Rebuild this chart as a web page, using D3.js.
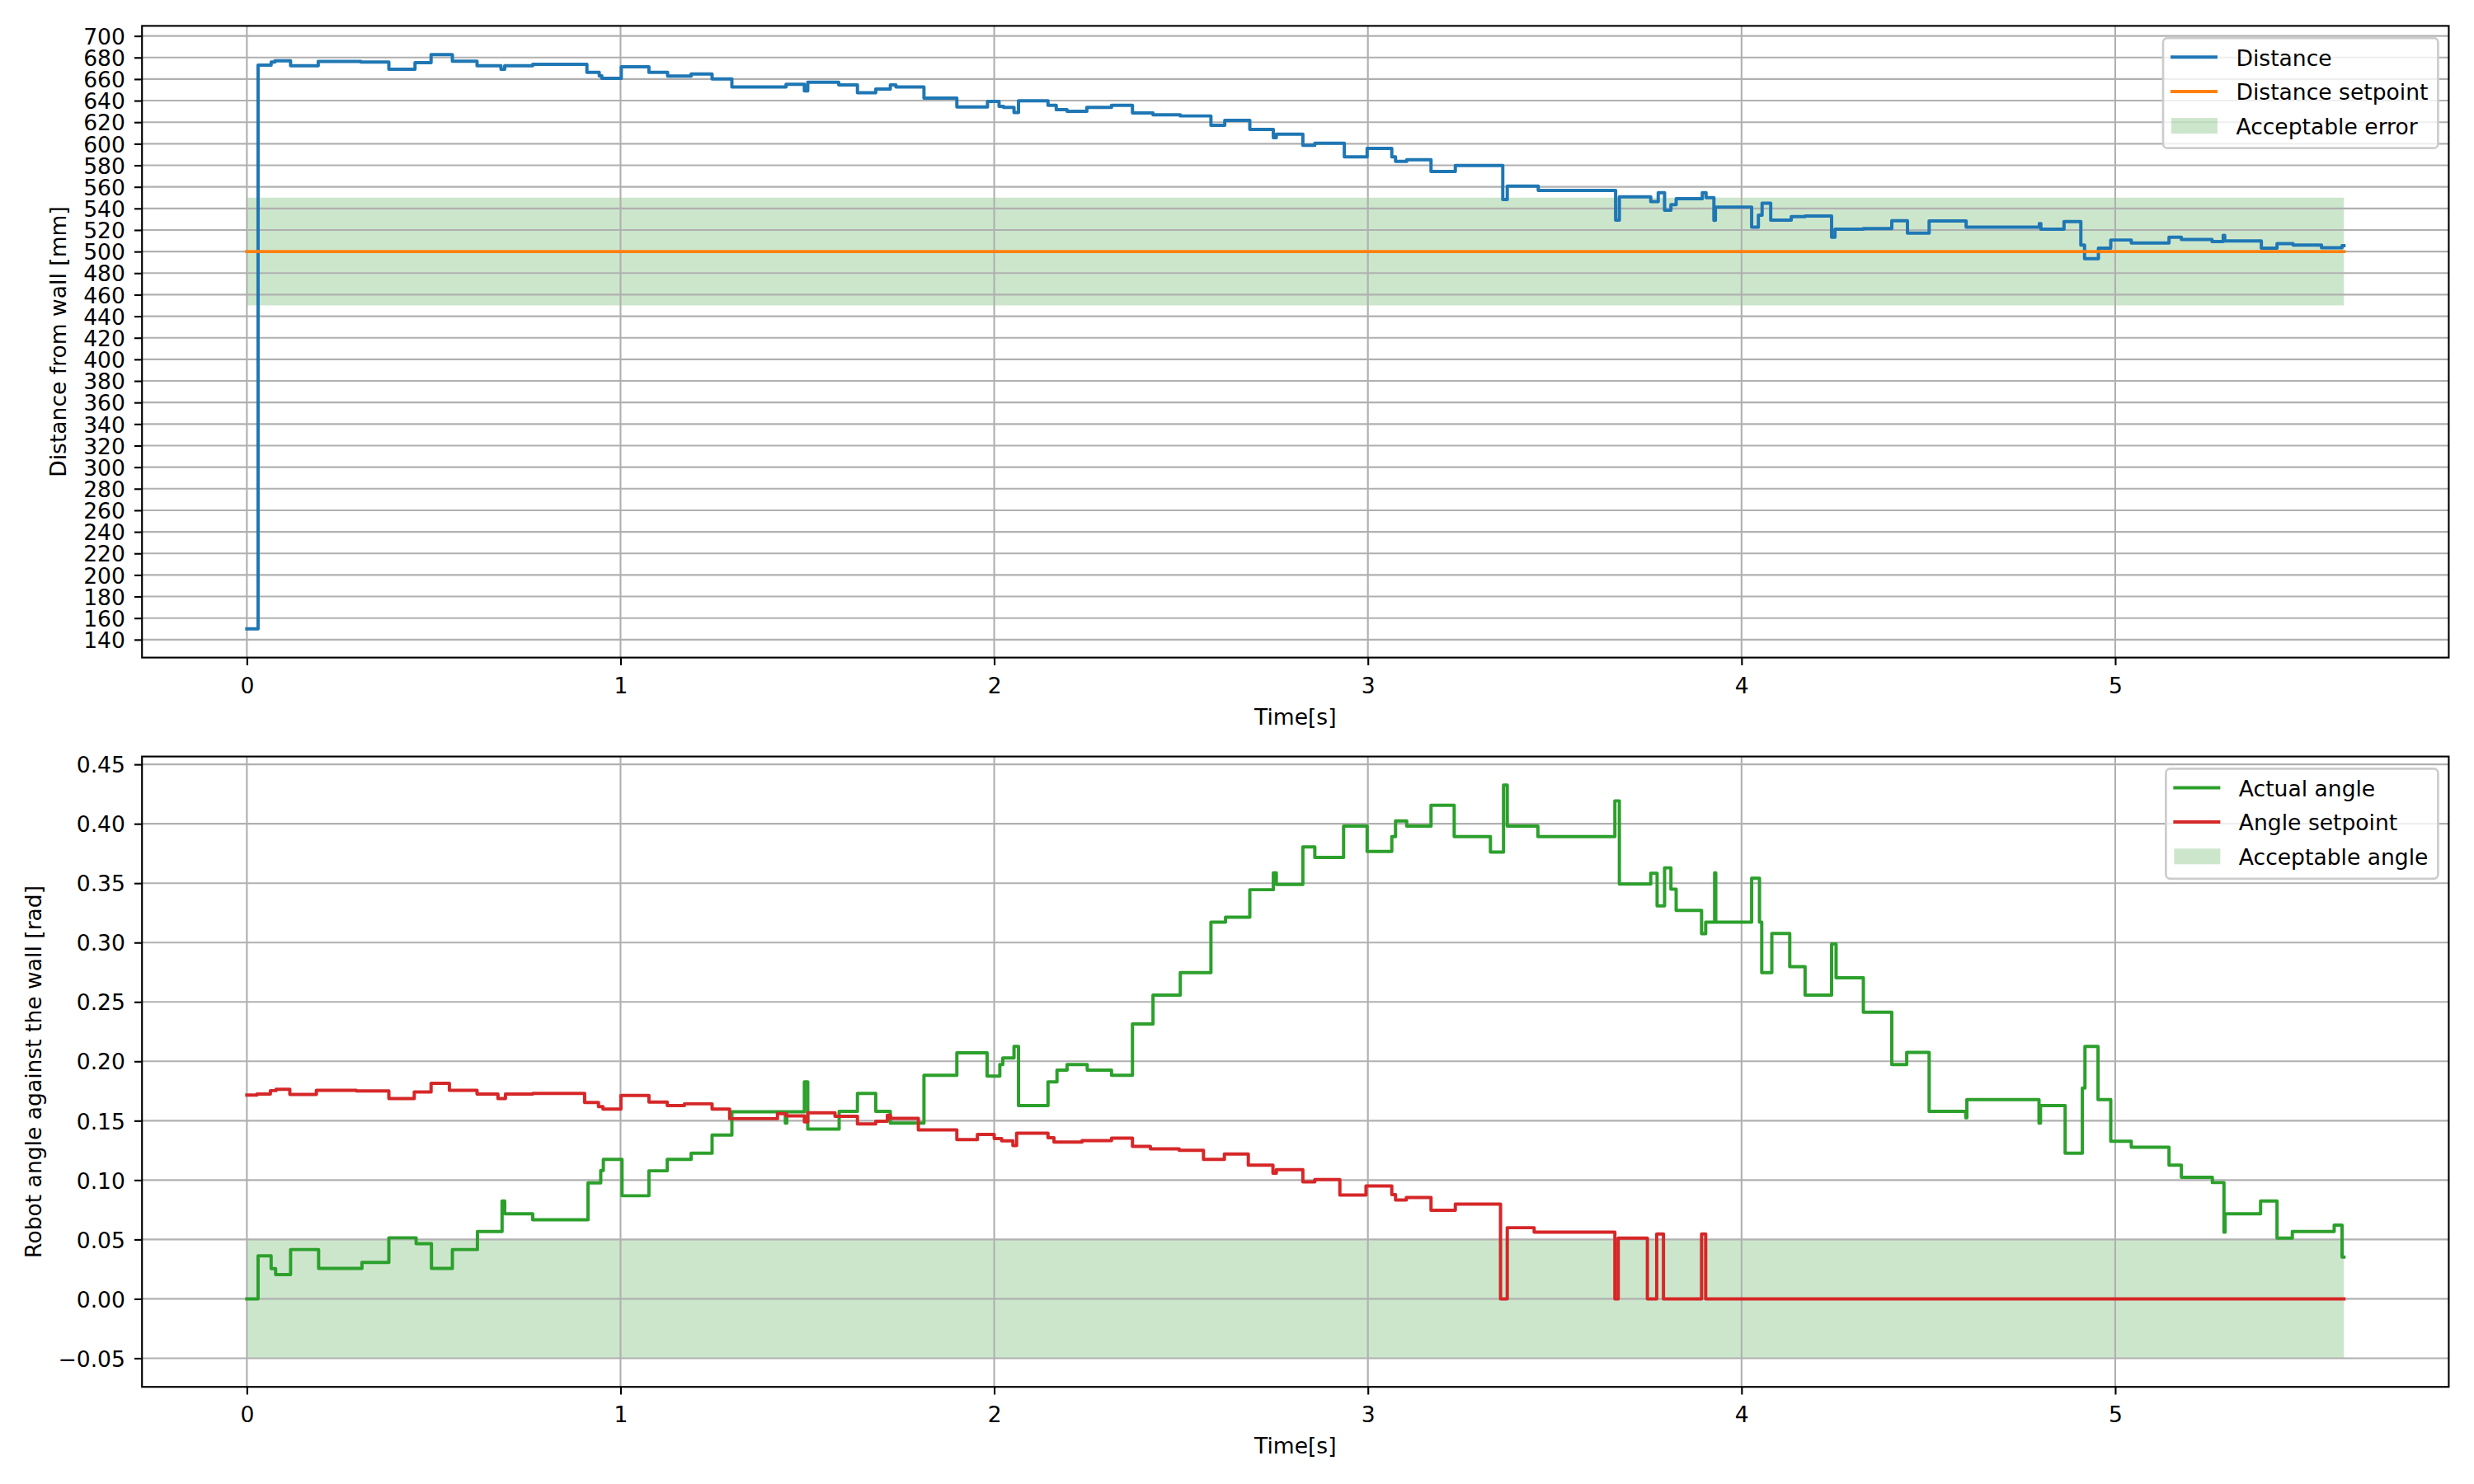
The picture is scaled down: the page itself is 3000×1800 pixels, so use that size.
<!DOCTYPE html>
<html><head><meta charset="utf-8">
<script src="https://cdn.jsdelivr.net/npm/d3@7"></script>
<style>body{margin:0;background:#fff} text{font-family:"DejaVu Sans",sans-serif;fill:#000}</style>
</head><body><svg id="c" width="3000" height="1800" xmlns="http://www.w3.org/2000/svg"></svg>
<script>
// ---------------- DATA (step points: [time s, value]) ----------------
const distance = [
[0,150],[0.030,673],[0.065,675.8],[0.075,677],[0.117,672.4],[0.191,676.3],[0.305,675.8],[0.380,669.1],
[0.450,675.3],[0.493,682.7],[0.550,676.5],[0.616,672.4],[0.680,669.1],[0.690,672.4],[0.765,673.7],
[0.910,666.3],[0.943,663.0],[0.950,660.7],[1.002,671.4],[1.076,666.3],[1.126,662.8],[1.189,664.8],
[1.245,660.2],[1.298,652.6],[1.443,655.1],[1.492,649.0],[1.501,657.1],[1.584,654.6],[1.634,647.4],
[1.683,650.8],[1.722,654.6],[1.737,652.6],[1.812,642.3],[1.900,634.2],[1.982,639.3],[2.013,634.7],
[2.025,633.7],[2.053,629.0],[2.065,639.8],[2.144,635.7],[2.166,631.6],[2.195,630.1],[2.248,633.7],
[2.314,635.7],[2.370,628.6],[2.425,626.8],[2.498,625.8],[2.580,617.1],[2.617,621.7],[2.684,613.3],
[2.747,605.6],[2.755,608.9],[2.826,598.5],[2.858,600.5],[2.937,587.8],[2.998,595.7],[3.064,587.8],
[3.074,583.7],[3.104,585.2],[3.169,574.2],[3.234,579.8],[3.361,548.2],[3.373,560.7],[3.456,556.6],
[3.663,529.1],[3.673,550.8],[3.757,546.4],[3.777,554.6],[3.794,538.3],[3.811,543.5],[3.825,549.0],
[3.895,554.6],[3.905,550.0],[3.926,529.0],[3.930,541.3],[4.027,522.7],[4.045,533.7],[4.055,544.9],
[4.078,529.1],[4.133,532.4],[4.170,532.9],[4.241,513.3],[4.250,520.7],[4.326,521.4],[4.402,528.6],
[4.444,517.1],[4.502,528.3],[4.601,522.7],[4.797,526.0],[4.801,520.7],[4.863,527.8],[4.908,506.1],
[4.918,493.4],[4.955,503.1],[4.988,510.7],[5.043,507.9],[5.144,513.3],[5.177,511.2],[5.259,509.2],
[5.289,515.0],[5.293,509.9],[5.391,503.1],[5.433,507.4],[5.476,506.1],[5.552,503.6],[5.607,505.5],
[5.612,505.5]
];
const distanceSetpoint = [[0,500],[5.612,500]];
const distanceBand = [450,550];

const actualAngle = [
[0,0],[0.030,0.0362],[0.065,0.0254],[0.077,0.0205],[0.117,0.0415],[0.192,0.0257],[0.308,0.0307],
[0.380,0.0514],[0.453,0.0465],[0.494,0.0257],[0.550,0.0415],[0.617,0.0567],[0.683,0.0824],[0.690,0.0716],
[0.765,0.0666],[0.913,0.0976],[0.947,0.1081],[0.954,0.1175],[1.004,0.0868],[1.076,0.1078],[1.125,0.1175],
[1.189,0.1227],[1.245,0.1379],[1.298,0.1575],[1.441,0.1480],[1.445,0.1575],[1.492,0.1826],[1.501,0.1429],
[1.585,0.1578],[1.634,0.1730],[1.683,0.1578],[1.722,0.1480],[1.812,0.1882],[1.900,0.2072],[1.981,0.1876],
[2.015,0.1973],[2.023,0.2028],[2.053,0.2125],[2.065,0.1628],[2.144,0.1826],[2.168,0.1926],[2.195,0.1973],
[2.249,0.1926],[2.314,0.1882],[2.370,0.2314],[2.425,0.2557],[2.498,0.2747],[2.580,0.3171],[2.619,0.3214],
[2.684,0.3445],[2.747,0.3586],[2.755,0.3489],[2.826,0.3805],[2.858,0.3717],[2.935,0.3980],[2.998,0.3767],
[3.064,0.3892],[3.074,0.4024],[3.104,0.3980],[3.169,0.4155],[3.231,0.3892],[3.328,0.3761],[3.363,0.4325],
[3.373,0.3980],[3.455,0.3892],[3.661,0.4193],[3.673,0.3492],[3.757,0.3583],[3.774,0.3308],[3.794,0.3629],
[3.811,0.3450],[3.825,0.3270],[3.893,0.3074],[3.904,0.3171],[3.928,0.3586],[3.931,0.3171],[4.027,0.3542],
[4.048,0.3171],[4.054,0.2747],[4.081,0.3077],[4.129,0.2797],[4.170,0.2557],[4.241,0.2987],[4.253,0.2703],
[4.326,0.2414],[4.402,0.1973],[4.442,0.2075],[4.502,0.1578],[4.600,0.1525],[4.603,0.1677],[4.796,0.1480],
[4.800,0.1628],[4.866,0.1227],[4.912,0.1774],[4.919,0.2125],[4.954,0.1677],[4.988,0.1327],[5.043,0.1277],
[5.144,0.1125],[5.177,0.1023],[5.260,0.0979],[5.291,0.0561],[5.294,0.0716],[5.389,0.0824],[5.433,0.0511],
[5.474,0.0567],[5.586,0.0620],[5.607,0.0351],[5.612,0.0351]
];
const angleSetpoint = [
[0,0.1715],[0.027,0.1724],[0.063,0.1753],[0.078,0.1765],[0.115,0.1721],[0.186,0.1756],[0.293,0.1750],
[0.380,0.1686],[0.448,0.1742],[0.493,0.1815],[0.542,0.1756],[0.616,0.1724],[0.672,0.1686],[0.692,0.1724],
[0.765,0.1730],[0.904,0.1654],[0.941,0.1619],[0.953,0.1598],[1.001,0.1712],[1.076,0.1657],[1.125,0.1628],
[1.171,0.1642],[1.245,0.1598],[1.292,0.1517],[1.420,0.1560],[1.443,0.1540],[1.492,0.1490],[1.501,0.1566],
[1.574,0.1537],[1.634,0.1473],[1.683,0.1496],[1.714,0.1546],[1.722,0.1520],[1.797,0.1423],[1.900,0.1341],
[1.955,0.1385],[2.000,0.1350],[2.020,0.1330],[2.050,0.1290],[2.060,0.1394],[2.144,0.1356],[2.160,0.1320],
[2.235,0.1333],[2.314,0.1353],[2.370,0.1283],[2.418,0.1262],[2.495,0.1251],[2.560,0.1175],[2.616,0.1219],
[2.680,0.1125],[2.746,0.1058],[2.755,0.1087],[2.826,0.0985],[2.858,0.1005],[2.925,0.0874],[2.995,0.0950],
[3.064,0.0877],[3.074,0.0833],[3.103,0.0853],[3.169,0.0745],[3.234,0.0798],[3.355,0.0],[3.373,0.0599],
[3.445,0.0561],[3.661,0.0],[3.670,0.0511],[3.748,0.0],[3.773,0.0546],[3.791,0.0],[3.893,0.0546],
[3.904,0.0],[5.612,0.0]
];
const angleBand = [-0.05,0.05];

const timeTicks = [0,1,2,3,4,5];
const distanceTicks = d3.range(140, 701, 20);
const angleTicks = [-0.05,0,0.05,0.10,0.15,0.20,0.25,0.30,0.35,0.40,0.45];

// ---------------- LAYOUT ----------------
const PT = 2.657, FS = 26.57;
const X0 = 172.2, X1 = 2969.4;
const svg = d3.select("#c");

const panels = [
  {top:31.4, bottom:797.6, ticks:distanceTicks, fmt:d3.format("d"),
   ylabel:"Distance from wall [mm]", ylabelX:80,
   series:[{data:distance,color:"#1f77b4",label:"Distance"},
           {data:distanceSetpoint,color:"#ff7f0e",label:"Distance setpoint"}],
   band:distanceBand, bandLabel:"Acceptable error"},
  {top:917.6, bottom:1682.2, ticks:angleTicks, fmt:d3.format(".2f"),
   ylabel:"Robot angle against the wall [rad]", ylabelX:50,
   series:[{data:actualAngle,color:"#2ca02c",label:"Actual angle"},
           {data:angleSetpoint,color:"#d62728",label:"Angle setpoint"}],
   band:angleBand, bandLabel:"Acceptable angle"}
];

panels.forEach((p, i) => {
  const allT = p.series.flatMap(s => s.data.map(d => d[0]));
  const allV = p.series.flatMap(s => s.data.map(d => d[1])).concat(p.band);
  const [t0, t1] = d3.extent(allT);
  const [v0, v1] = d3.extent(allV);
  const tp = 0.05*(t1-t0), vp = 0.05*(v1-v0);
  const x = d3.scaleLinear().domain([t0-tp, t1+tp]).range([X0, X1]);
  const y = d3.scaleLinear().domain([v0-vp, v1+vp]).range([p.bottom, p.top]);

  const g = svg.append("g");
  const clipId = "clip"+i;
  svg.append("clipPath").attr("id", clipId).append("rect")
    .attr("x", X0).attr("y", p.top).attr("width", X1-X0).attr("height", p.bottom-p.top);

  // acceptable band
  const bandArea = d3.area().x(d => x(d)).y0(y(p.band[0])).y1(y(p.band[1]));
  g.append("path").attr("d", bandArea([t0, t1]))
    .attr("fill", "green").attr("fill-opacity", 0.2);

  // grid
  const grid = g.append("g").attr("clip-path", `url(#${clipId})`)
    .attr("stroke", "#b0b0b0").attr("stroke-width", 0.8*PT);
  timeTicks.forEach(t => grid.append("line").attr("x1", x(t)).attr("x2", x(t)).attr("y1", p.top).attr("y2", p.bottom));
  p.ticks.forEach(v => grid.append("line").attr("x1", X0).attr("x2", X1).attr("y1", y(v)).attr("y2", y(v)));

  // lines
  const line = d3.line().x(d => x(d[0])).y(d => y(d[1])).curve(d3.curveStepAfter);
  const lg = g.append("g").attr("clip-path", `url(#${clipId})`);
  p.series.forEach(s => lg.append("path").attr("d", line(s.data))
    .attr("fill", "none").attr("stroke", s.color).attr("stroke-width", 1.5*PT)
    .attr("stroke-linejoin", "round").attr("stroke-linecap", "square"));

  // axes
  const xa = g.append("g").attr("transform", `translate(0,${p.bottom})`)
    .call(d3.axisBottom(x).tickValues(timeTicks).tickFormat(d3.format("d"))
      .tickSize(3.5*PT).tickSizeOuter(0).tickPadding(14.8));
  const ya = g.append("g").attr("transform", `translate(${X0},0)`)
    .call(d3.axisLeft(y).tickValues(p.ticks).tickFormat(p.fmt)
      .tickSize(3.5*PT).tickSizeOuter(0).tickPadding(11));
  [xa, ya].forEach(a => {
    a.select(".domain").remove();
    a.selectAll(".tick line").attr("stroke", "#000").attr("stroke-width", 0.8*PT);
    a.selectAll(".tick text").attr("font-size", FS).attr("font-family", "DejaVu Sans").attr("fill", "#000");
  });
  ya.selectAll(".tick text").attr("dy", "0.365em");

  // spines
  g.append("rect").attr("x", X0).attr("y", p.top).attr("width", X1-X0).attr("height", p.bottom-p.top)
    .attr("fill", "none").attr("stroke", "#000").attr("stroke-width", 0.8*PT);

  // labels
  g.append("text").attr("x", (X0+X1)/2).attr("y", p.bottom+81).attr("text-anchor", "middle")
    .attr("font-size", FS).text("Time[s]");
  g.append("text").attr("transform", `translate(${p.ylabelX},${(p.top+p.bottom)/2}) rotate(-90)`)
    .attr("text-anchor", "middle").attr("font-size", FS).text(p.ylabel);

  // legend
  const entries = p.series.map(s => ({label:s.label, color:s.color, kind:"line"}))
    .concat([{label:p.bandLabel, kind:"patch"}]);
  const leg = g.append("g");
  const frame = leg.append("rect");
  const right = X1 - 13;
  const topY = p.top + 14.8;
  const texts = entries.map((e, k) => leg.append("text").attr("font-size", FS).text(e.label));
  const maxW = d3.max(texts, t => t.node().getComputedTextLength());
  const left = right - 12 - maxW - 88.5;
  frame.attr("x", left).attr("y", topY).attr("width", right-left).attr("height", 133.5)
    .attr("rx", 0.2*FS).attr("fill", "#fff").attr("fill-opacity", 0.8)
    .attr("stroke", "#cccccc").attr("stroke-width", 1.0*PT);
  entries.forEach((e, k) => {
    const cy = topY + 23 + k*41.7;
    texts[k].attr("x", left+88.5).attr("y", cy+10.3);
    if (e.kind === "line") {
      leg.append("line").attr("x1", left+9).attr("x2", left+66).attr("y1", cy).attr("y2", cy)
        .attr("stroke", e.color).attr("stroke-width", 1.5*PT);
    } else {
      leg.append("rect").attr("x", left+10).attr("y", cy-9.5).attr("width", 56).attr("height", 19)
        .attr("fill", "green").attr("fill-opacity", 0.2);
    }
  });
});
</script></body></html>
